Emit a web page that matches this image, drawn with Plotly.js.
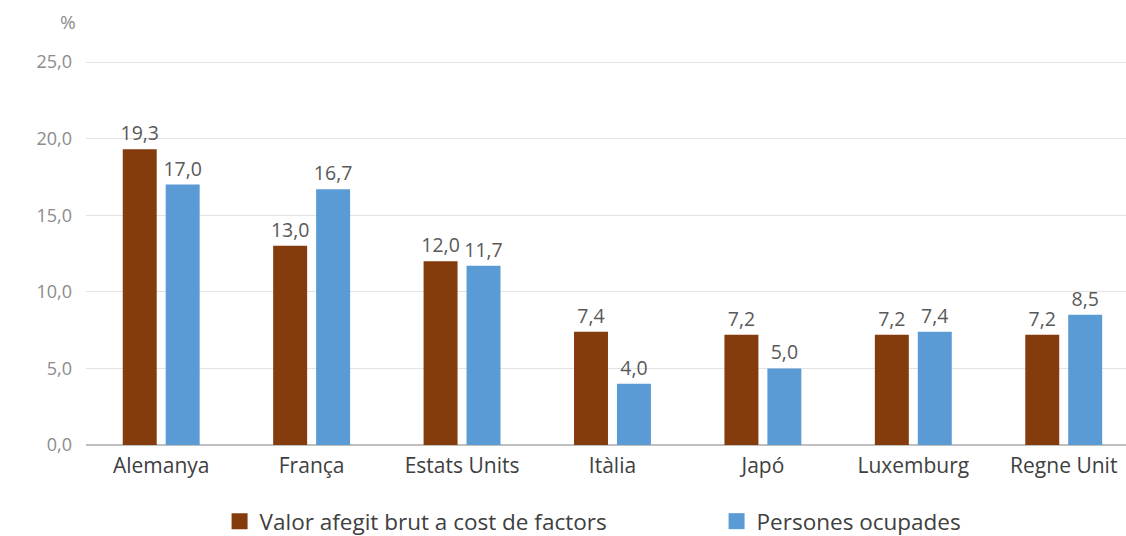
<!DOCTYPE html>
<html>
<head>
<meta charset="utf-8">
<script src="https://cdn.plot.ly/plotly-3.0.1.min.js"></script>
<style>html,body{margin:0;padding:0;background:#fff;}#chart{width:1126px;height:536px;}</style>
</head>
<body>
<div id="chart"></div>
<script>
const categories = ["Alemanya", "França", "Estats Units", "Itàlia", "Japó", "Luxemburg", "Regne Unit"];
const valorAfegit = [19.3, 13.0, 12.0, 7.4, 7.2, 7.2, 7.2];
const personesOcupades = [17.0, 16.7, 11.7, 4.0, 5.0, 7.4, 8.5];
const seriesNames = ["Valor afegit brut a cost de factors", "Persones ocupades"];
const seriesColors = ['#843c0c', '#5b9bd5'];
const yTicks = [0, 5, 10, 15, 20, 25];

const font = "Open Sans, sans-serif";
const fmt = v => v.toFixed(1).replace('.', ',');

const barValues = [valorAfegit, personesOcupades];
const traces = barValues.map((vals, i) => ({
  type: 'bar', name: seriesNames[i], x: categories, y: vals,
  marker: {color: seriesColors[i]},
  text: vals.map(fmt), textposition: 'outside', cliponaxis: false,
  constraintext: 'none',
  textfont: {family: font, size: 19.5, color: '#595959'},
  hoverinfo: 'none', showlegend: false
}));
// legend entries with larger square swatches
seriesNames.forEach((n, i) => traces.push({
  type: 'scatter', mode: 'markers', name: n, x: [null], y: [null],
  marker: {symbol: 'square', size: 19, color: seriesColors[i]},
  hoverinfo: 'none', showlegend: true
}));

const layout = {
  width: 1126, height: 536,
  margin: {l: 86, r: 0, t: 55, b: 91},
  paper_bgcolor: '#fff', plot_bgcolor: '#fff',
  font: {family: font, color: '#595959'},
  separators: ',.',
  bargap: 0.429, bargroupgap: 0.209,
  xaxis: {
    type: 'category', range: [-0.5, 6.414],
    showgrid: false, zeroline: false, showline: false,
    ticks: '', ticklabelstandoff: 6,
    tickfont: {family: font, size: 21, color: '#404040'},
    fixedrange: true
  },
  yaxis: {
    range: [0, 25.457], tickvals: yTicks, tickformat: '.1f',
    showgrid: true, gridcolor: '#e3e3e3', gridwidth: 1,
    zeroline: true, zerolinecolor: '#bfbfbf', zerolinewidth: 1.5,
    showline: false, ticks: '', ticklabelstandoff: 13,
    tickfont: {family: font, size: 18, color: '#8c8c8c'},
    fixedrange: true
  },
  showlegend: true,
  legend: {
    orientation: 'h', xref: 'container', yref: 'container',
    x: 0.195, xanchor: 'left', y: 0.027, yanchor: 'middle',
    font: {family: font, size: 22.5, color: '#404040'},
    itemwidth: 30,
    entrywidth: 452, entrywidthmode: 'pixels', traceorder: 'normal'
  },
  annotations: [
    {text: '%', xref: 'paper', yref: 'paper', x: 0, y: 1.085, xanchor: 'center', yanchor: 'middle',
     xshift: -18, showarrow: false, font: {family: font, size: 19, color: '#8c8c8c'}}
  ]
};

Plotly.newPlot('chart', traces, layout, {displayModeBar: false, staticPlot: true});
</script>
</body>
</html>
